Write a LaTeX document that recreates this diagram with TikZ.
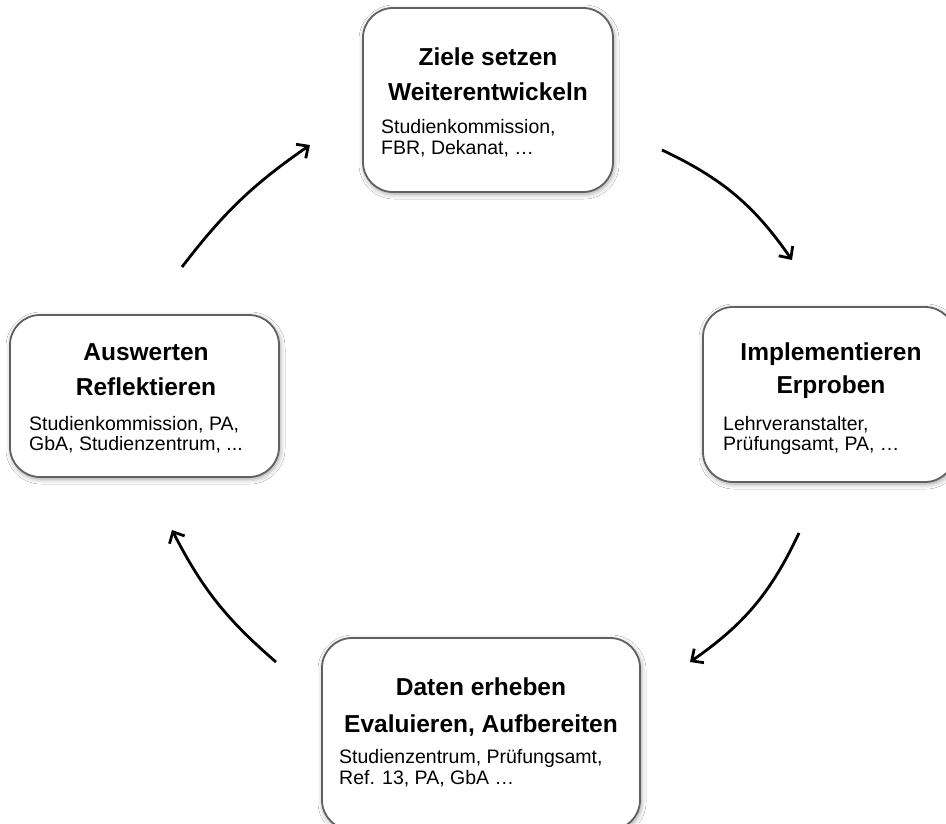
\documentclass[tikz,border=0pt]{standalone}
\usepackage{fontspec}
\setmainfont{Liberation Sans}
\usetikzlibrary{arrows.meta,shadows.blur}
\tikzset{
  box/.style={draw=black!62, line width=1.8pt, fill=white, rounded corners=30pt,
    blur shadow={shadow xshift=1pt, shadow yshift=-2pt, shadow blur radius=5pt, shadow opacity=40}},
  ttl/.style={font=\bfseries\fontsize{24.5}{29}\selectfont, anchor=base, inner sep=0pt},
  sml/.style={font=\fontsize{19.5}{20.5}\selectfont, anchor=base west, inner sep=0pt},
  cyc/.style={line width=2.8pt, -{Straight Barb[length=9pt,width=17pt]}},
}
\begin{document}
\begin{tikzpicture}[x=1pt,y=-1pt]
\useasboundingbox (0,0) rectangle (946,823);
\clip (0,0) rectangle (946,823);
\fill[white] (0,0) rectangle (946,823);

% boxes
\node[box, minimum width=250pt, minimum height=184pt] (top) at (488,100) {};
\node[box, minimum width=269pt, minimum height=162pt] (left) at (144.5,396) {};
\node[box, minimum width=252pt, minimum height=175pt] (right) at (829,394.5) {};
\node[box, minimum width=318pt, minimum height=192pt] (bottom) at (481,734) {};

% top box texts
\node[ttl] (t1) at (488,65) {Ziele setzen};
\node[ttl] (t2) at (488,100) {Weiterentwickeln};
\node[sml] (t3) at (381,133) {Studienkommission,};
\node[sml] (t4) at (381,154) {FBR, Dekanat, …};

% left box texts
\node[ttl] (l1) at (146,360) {Auswerten};
\node[ttl] (l2) at (146,395) {Reflektieren};
\node[sml] (l3) at (29,430) {Studienkommission, PA,};
\node[sml] (l4) at (29,450) {GbA, Studienzentrum, ...};

% right box texts
\node[ttl] (r1) at (831,360) {Implementieren};
\node[ttl] (r2) at (831,393) {Erproben};
\node[sml] (r3) at (723,430) {Lehrveranstalter,};
\node[sml] (r4) at (723,450) {Prüfungsamt, PA, …};

% bottom box texts
\node[ttl] (b1) at (481,695) {Daten erheben};
\node[ttl] (b2) at (481,732) {Evaluieren, Aufbereiten};
\node[sml] (b3) at (339,763) {Studienzentrum, Prüfungsamt,};
\node[sml] (b4) at (339,784) {Ref. 13, PA, GbA …};

% arrows
\coordinate (a1s) at (662,150); \coordinate (a1e) at (792,260);
\coordinate (a2s) at (799,533); \coordinate (a2e) at (690,662);
\coordinate (a3s) at (276,662); \coordinate (a3e) at (172,530);
\coordinate (a4s) at (182,267); \coordinate (a4e) at (310,145);
\draw[cyc] (a1s) to[bend left=15] (a1e);
\draw[cyc] (a2s) to[bend left=15] (a2e);
\draw[cyc] (a3s) to[bend left=11] (a3e);
\draw[cyc] (a4s) to[bend left=9] (a4e);
\end{tikzpicture}
\end{document}
